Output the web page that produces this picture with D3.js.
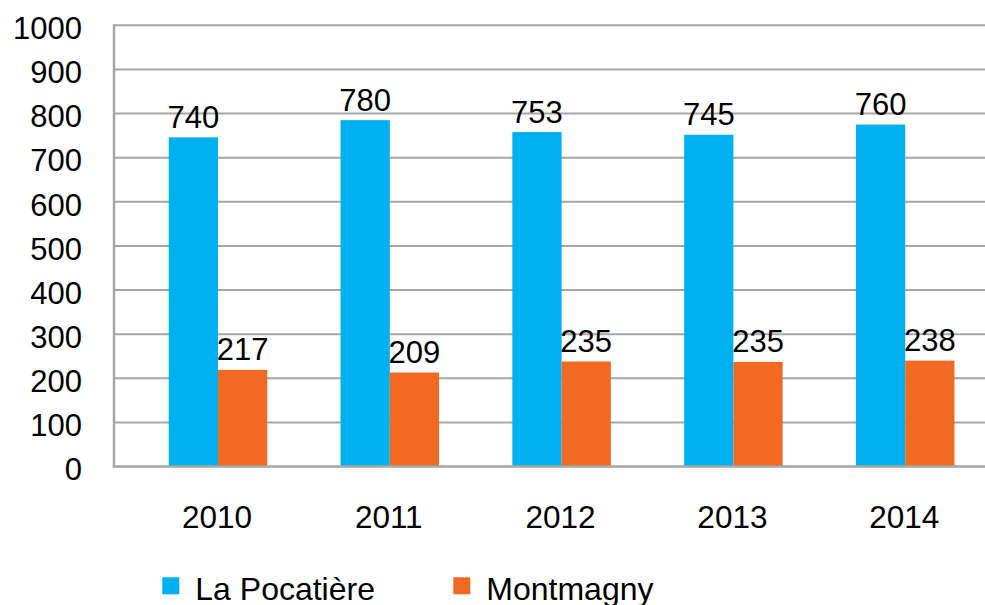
<!DOCTYPE html>
<html>
<head>
<meta charset="utf-8">
<script src="https://cdn.jsdelivr.net/npm/d3@7"></script>
<style>
  html, body { margin: 0; padding: 0; background: #fff; }
  svg { display: block; font-family: "Liberation Sans", Arial, sans-serif; }
</style>
</head>
<body>
<svg id="chart" width="985" height="605"></svg>
<script>
// Categories and series (bar heights; labels as printed)
const years = ["2010", "2011", "2012", "2013", "2014"];
const seriesNames = ["La Pocatière", "Montmagny"];
const laPocatiere = [746, 785, 758, 752, 775];
const montmagny = [219, 213, 238, 237, 240];
const laPocatiereLabels = ["740", "780", "753", "745", "760"];
const montmagnyLabels = ["217", "209", "235", "235", "238"];
const yTicks = [0, 100, 200, 300, 400, 500, 600, 700, 800, 900, 1000];

const COLORS = { "La Pocatière": "#00b0f0", "Montmagny": "#f26922" };
const GRID = "#a6a6a6";

const width = 985, height = 605;
const plotLeft = 114, plotRight = 985;

const svg = d3.select("#chart");

const y = d3.scaleLinear().domain([0, 1000]).range([466.5, 25.3]);

const x = d3.scaleBand()
  .domain(years)
  .range([132.1, 991.1])
  .paddingInner(0.4267)
  .paddingOuter(0.2133);

const xs = d3.scaleBand().domain(seriesNames).range([0, x.bandwidth()]);

// gridlines
svg.append("g")
  .selectAll("line")
  .data(yTicks.filter(d => d > 0))
  .join("line")
  .attr("x1", plotLeft).attr("x2", plotRight)
  .attr("y1", d => y(d)).attr("y2", d => y(d))
  .attr("stroke", GRID).attr("stroke-width", 2);

// y tick labels
svg.append("g")
  .selectAll("text")
  .data(yTicks)
  .join("text")
  .attr("x", 82)
  .attr("y", d => y(d) + 13.8)
  .attr("text-anchor", "end")
  .attr("font-size", 31)
  .attr("fill", "#000")
  .text(d => d);

// bars
const rows = years.map((yr, i) => ({
  year: yr,
  values: [
    { name: seriesNames[0], v: laPocatiere[i], label: laPocatiereLabels[i] },
    { name: seriesNames[1], v: montmagny[i], label: montmagnyLabels[i] }
  ]
}));

const groups = svg.append("g")
  .selectAll("g")
  .data(rows)
  .join("g")
  .attr("transform", d => `translate(${x(d.year)},0)`);

groups.selectAll("rect")
  .data(d => d.values)
  .join("rect")
  .attr("x", d => xs(d.name))
  .attr("y", d => y(d.v))
  .attr("width", xs.bandwidth())
  .attr("height", d => y(0) - y(d.v))
  .attr("fill", d => COLORS[d.name]);

groups.selectAll("text")
  .data(d => d.values)
  .join("text")
  .attr("x", d => xs(d.name) + xs.bandwidth() / 2)
  .attr("y", d => y(d.v) - 9.5)
  .attr("text-anchor", "middle")
  .attr("font-size", 31)
  .attr("fill", "#000")
  .text(d => d.label);

// axes lines
svg.append("line")
  .attr("x1", plotLeft).attr("x2", plotLeft)
  .attr("y1", y(1000) - 1).attr("y2", y(0) + 1)
  .attr("stroke", GRID).attr("stroke-width", 2.5);
svg.append("line")
  .attr("x1", plotLeft - 1.2).attr("x2", plotRight)
  .attr("y1", y(0)).attr("y2", y(0))
  .attr("stroke", GRID).attr("stroke-width", 2.5);

// x labels
svg.append("g")
  .selectAll("text")
  .data(years)
  .join("text")
  .attr("x", d => x(d) + x.bandwidth() / 2 - 1)
  .attr("y", 528)
  .attr("text-anchor", "middle")
  .attr("font-size", 31.5)
  .attr("fill", "#000")
  .text(d => d);

// legend
const legendX = [162.3, 453.3];
const legend = svg.append("g")
  .selectAll("g")
  .data(seriesNames)
  .join("g")
  .attr("transform", (d, i) => `translate(${legendX[i]},577.3)`);
legend.append("rect")
  .attr("width", 17).attr("height", 17)
  .attr("fill", d => COLORS[d]);
legend.append("text")
  .attr("x", 33)
  .attr("y", 22.7)
  .attr("font-size", 32)
  .attr("fill", "#000")
  .text(d => d);
</script>
</body>
</html>
